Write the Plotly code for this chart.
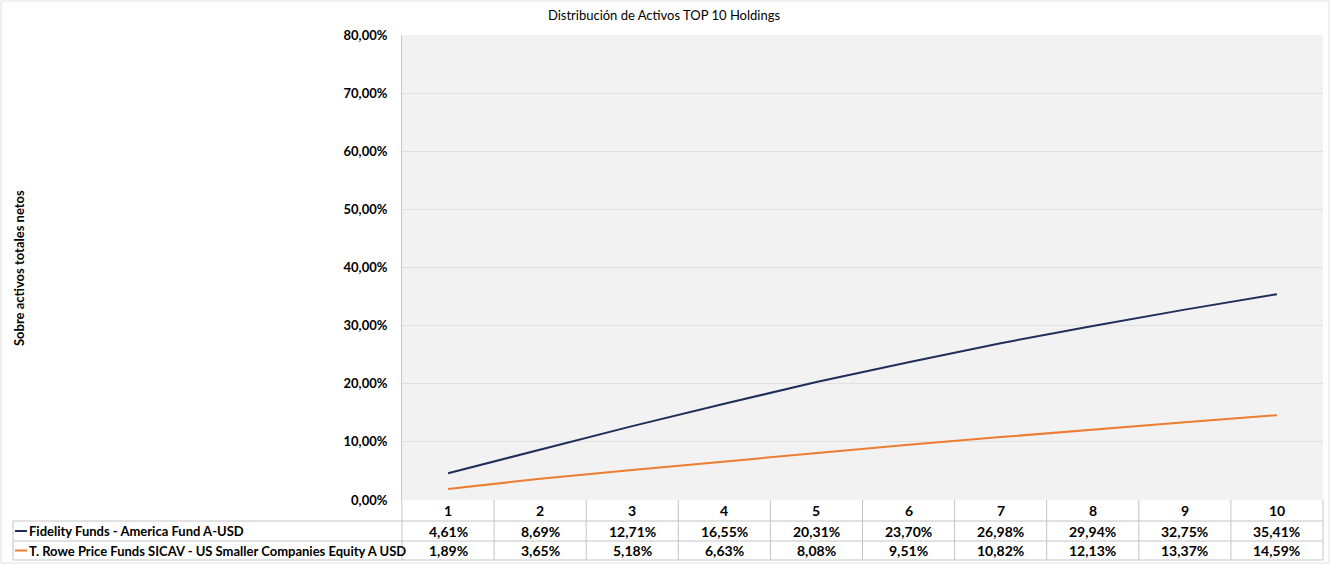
import plotly.graph_objects as go

categories = [1, 2, 3, 4, 5, 6, 7, 8, 9, 10]
series_names = ["Fidelity Funds - America Fund A-USD",
                "T. Rowe Price Funds SICAV - US Smaller Companies Equity A USD"]
fidelity = [4.61, 8.69, 12.71, 16.55, 20.31, 23.70, 26.98, 29.94, 32.75, 35.41]
trowe = [1.89, 3.65, 5.18, 6.63, 8.08, 9.51, 10.82, 12.13, 13.37, 14.59]
colors = ["#1f2f5c", "#ed7d31"]
y_ticks = [0, 10, 20, 30, 40, 50, 60, 70, 80]

W, H = 1332, 565
L, R, T, B = 402, 1323, 35, 500
pw, ph = R - L, B - T

def px(x):
    return (x - L) / pw

def py(y):
    return (B - y) / ph

FONT = "Lato"
TXT = dict(size=13, color="#000", family=FONT, weight="bold")
VAL = dict(size=14, color="#000", family=FONT, weight="bold")
fig = go.Figure()
for name, vals, c in [(series_names[0], fidelity, colors[0]), (series_names[1], trowe, colors[1])]:
    fig.add_trace(go.Scatter(x=categories, y=vals, mode="lines", name=name,
                             line=dict(color=c, width=2), showlegend=False))

shapes = []
annos = []
grid = "#c4c4c4"
row_y = [B, 521, 541, 560]
for yy in row_y[1:]:
    shapes.append(dict(type="line", xref="paper", yref="paper", x0=px(13), x1=px(R),
                       y0=py(yy), y1=py(yy), line=dict(color=grid, width=1)))
shapes.append(dict(type="line", xref="paper", yref="paper", x0=px(13), x1=px(13),
                   y0=py(row_y[1]), y1=py(row_y[3]), line=dict(color=grid, width=1)))
ncat = len(categories)
for i in range(ncat + 1):
    xb = px(L + pw * i / ncat)
    shapes.append(dict(type="line", xref="paper", yref="paper", x0=xb, x1=xb,
                       y0=py(B), y1=py(row_y[3]), line=dict(color=grid, width=1)))
for i, cat in enumerate(categories):
    xc = px(L + pw * (i + 0.5) / ncat)
    annos.append(dict(xref="paper", yref="paper", x=xc, y=py((row_y[0] + row_y[1]) / 2),
                      xanchor="center", yanchor="middle",
                      text=str(cat), showarrow=False, font=VAL))
    for r, vals in enumerate([fidelity, trowe]):
        txt = f"{vals[i]:.2f}%".replace(".", ",")
        annos.append(dict(xref="paper", yref="paper", x=xc, y=py((row_y[r + 1] + row_y[r + 2]) / 2),
                          xanchor="center", yanchor="middle",
                          text=txt, showarrow=False, font=VAL))
for r in range(2):
    yc = py((row_y[r + 1] + row_y[r + 2]) / 2)
    shapes.append(dict(type="line", xref="paper", yref="paper", x0=px(15), x1=px(27),
                       y0=yc, y1=yc, line=dict(color=colors[r], width=2)))
    annos.append(dict(xref="paper", yref="paper", x=px(27), y=yc, xanchor="left", yanchor="middle",
                      text=series_names[r], showarrow=False, font=TXT))
annos.append(dict(xref="paper", yref="paper", x=px(19), y=py(268), textangle=-90,
                  xanchor="center", yanchor="middle",
                  text="Sobre activos totales netos", showarrow=False,
                  font=dict(size=13, color="#000", family=FONT, weight="bold")))
shapes.append(dict(type="rect", xref="paper", yref="paper", x0=px(1), x1=px(1329),
                   y0=py(1), y1=py(563), line=dict(color="#e0e0e0", width=1)))

fig.update_layout(
    width=W, height=H,
    margin=dict(l=L, r=W - R, t=T, b=H - B),
    paper_bgcolor="white", plot_bgcolor="#f2f2f2",
    title=dict(text="Distribución de Activos TOP 10 Holdings", xref="container", yref="container",
               x=664 / W, xanchor="center", y=1 - 15 / H, yanchor="middle",
               font=dict(size=13, color="#000", family=FONT)),
    xaxis=dict(range=[0.5, 10.5], showticklabels=False, showgrid=False, zeroline=False,
               showline=False, ticks=""),
    yaxis=dict(range=[0, 80], tickvals=y_ticks,
               ticktext=[f"{v:.2f}%".replace(".", ",") for v in y_ticks],
               showgrid=True, gridcolor="#e0e0e0", gridwidth=1, zeroline=False,
               showline=True, linecolor="#c8c8c8", ticks="", ticklabelstandoff=11,
               tickfont=TXT),
    shapes=shapes, annotations=annos,
    font=dict(family=FONT),
)
fig.write_html("out.html", config={"displayModeBar": False},
               post_script="document.body.style.margin='0px';")
